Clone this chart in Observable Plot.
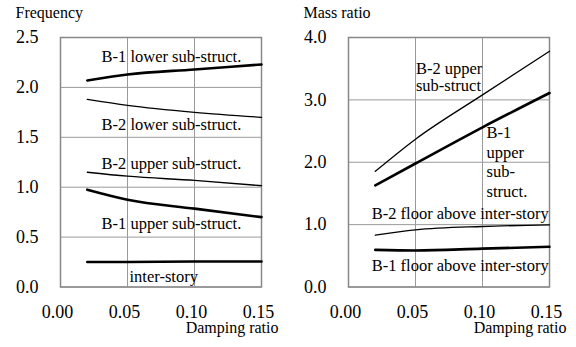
<!DOCTYPE html>
<html><head><meta charset="utf-8">
<script src="https://cdn.jsdelivr.net/npm/d3@7"></script>
<script src="https://cdn.jsdelivr.net/npm/@observablehq/plot@0.6"></script>
<style>
body{margin:0;background:#fff}
#wrap{display:flex;width:576px;height:347px}
#wrap svg{overflow:visible}
</style></head><body><div id="wrap"></div>
<script>
// Damping ratios at which the structure was evaluated
const damping = [0.02, 0.05, 0.10, 0.15];

// Natural frequency of each part (left panel)
const freqB1Lower = [2.07, 2.13, 2.18, 2.23];
const freqB2Lower = [1.88, 1.82, 1.75, 1.70];
const freqB2Upper = [1.15, 1.11, 1.068, 1.015];
const freqB1Upper = [0.975, 0.875, 0.785, 0.70];
const freqInter   = [0.25, 0.25, 0.255, 0.255];

// Mass ratio of each part (right panel)
const massB2Upper = [1.855, 2.37, 3.08, 3.78];
const massB1Upper = [1.63, 1.98, 2.56, 3.11];
const massB2Floor = [0.83, 0.915, 0.97, 0.995];
const massB1Floor = [0.595, 0.585, 0.615, 0.645];

// Tick values
const xTicks = [0, 0.05, 0.10, 0.15];
const freqTicks = [0, 0.5, 1.0, 1.5, 2.0, 2.5];
const massTicks = [0, 1, 2, 3, 4];

// Curve annotations, placed in data coordinates
const freqLabels = [
  {x: 0.0306, y: 2.255, text: "B-1 lower sub-struct."},
  {x: 0.0306, y: 1.575, text: "B-2 lower sub-struct."},
  {x: 0.0306, y: 1.185, text: "B-2 upper sub-struct."},
  {x: 0.0306, y: 0.585, text: "B-1 upper sub-struct."},
  {x: 0.0515, y: 0.055, text: "inter-story"}
];
const massLabels = [
  {x: 0.0173, y: 1.096, text: "B-2 floor above inter-story"},
  {x: 0.0173, y: 0.262, text: "B-1 floor above inter-story"}
];
const massLabelB2Upper = [{x: 0.0503, y: 3.135, text: "B-2 upper\nsub-struct"}];
const massLabelB1Upper = [{x: 0.103, y: 1.449, text: "B-1\nupper\nsub-\nstruct."}];

const rows = v => damping.map((d, i) => ({x: d, y: v[i]}));
const FONT = "Liberation Serif";
const THICK = 2.6, THIN = 1.3;

function panel({yDomain, yTicks, series, labelMarks, title}) {
  const svg = Plot.plot({
    width: 288, height: 347,
    marginLeft: 60, marginRight: 27, marginTop: 37, marginBottom: 60.5,
    style: {color: "#000", background: "#fff"},
    x: {domain: [0, 0.15]},
    y: {domain: yDomain},
    marks: [
      Plot.gridX(xTicks, {stroke: "#9a9a9a", strokeOpacity: 1, strokeWidth: 1}),
      Plot.gridY(yTicks, {stroke: "#9a9a9a", strokeOpacity: 1, strokeWidth: 1}),
      Plot.frame({stroke: "#888", strokeWidth: 1.5}),
      Plot.axisX(xTicks, {tickSize: 0, tickPadding: 18, tickFormat: d3.format(".2f"), fontSize: 18, dx: -3, label: null}),
      Plot.axisY(yTicks, {tickSize: 0, tickPadding: 22, tickFormat: d3.format(".1f"), fontSize: 18, label: null}),
      ...series.map(s => Plot.line(rows(s.v), {x: "x", y: "y", stroke: "#000", strokeWidth: s.w, curve: "monotone-x"})),
      ...labelMarks,
      Plot.text([title], {frameAnchor: "top-left", textAnchor: "start", lineAnchor: "bottom", dx: -45, dy: -20, fontSize: 16, fill: "#000"}),
      Plot.text(["Damping ratio"], {frameAnchor: "bottom-right", textAnchor: "end", lineAnchor: "bottom", dx: 17, dy: 46, fontSize: 16, fill: "#000"})
    ]
  });
  // serif type throughout the panel
  svg.setAttribute("font-family", FONT);
  svg.querySelectorAll("text").forEach(el => el.setAttribute("style", `font-family:'${FONT}'`));
  return svg;
}

const labelText = (data, opts = {}) => Plot.text(data, {
  x: "x", y: "y", text: "text", textAnchor: "start", lineAnchor: "bottom",
  fontSize: 16.5, fill: "#000", ...opts
});

const left = panel({
  yDomain: [0, 2.5], yTicks: freqTicks, title: "Frequency",
  series: [
    {v: freqB1Lower, w: THICK}, {v: freqB2Lower, w: THIN},
    {v: freqB2Upper, w: THIN}, {v: freqB1Upper, w: THICK},
    {v: freqInter, w: THICK}
  ],
  labelMarks: [labelText(freqLabels)]
});

const right = panel({
  yDomain: [0, 4.0], yTicks: massTicks, title: "Mass ratio",
  series: [
    {v: massB2Upper, w: THIN}, {v: massB1Upper, w: THICK},
    {v: massB2Floor, w: THIN}, {v: massB1Floor, w: THICK}
  ],
  labelMarks: [
    labelText(massLabels),
    labelText(massLabelB2Upper, {lineHeight: 1.07}),
    labelText(massLabelB1Upper, {lineHeight: 1.18})
  ]
});

const wrap = document.getElementById("wrap");
wrap.append(left, right);
</script></body></html>
